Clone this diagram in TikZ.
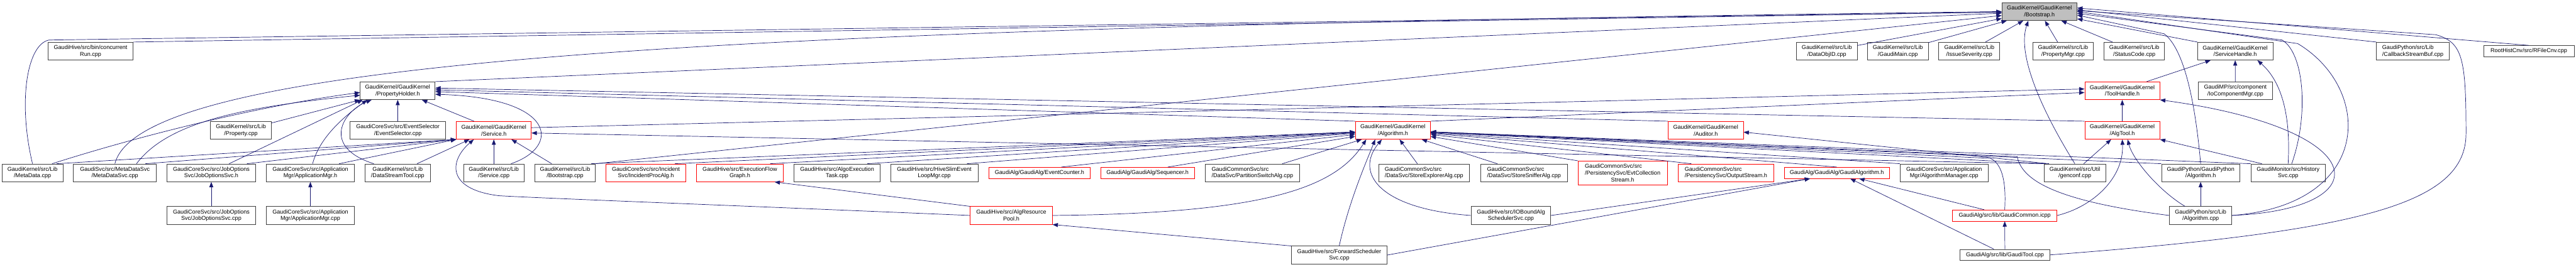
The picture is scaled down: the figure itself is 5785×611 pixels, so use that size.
\documentclass[tikz,border=0pt]{standalone}
\usepackage{fontspec}
\setmainfont{Liberation Sans}
\usepackage{tikz}
\usetikzlibrary{arrows.meta}
\definecolor{edgeblue}{HTML}{191970}
\definecolor{boxgray}{HTML}{404040}
\definecolor{rootgray}{HTML}{BFBFBF}
\definecolor{boxred}{HTML}{FF0000}
\newcommand{\dxfont}{\fontsize{12.8pt}{15pt}\selectfont}
\tikzset{file/.style={draw=boxgray, fill=white, line width=1pt, inner sep=0pt,
		align=center, font=\dxfont, minimum height=40pt},
	redfile/.style={file, draw=boxred},
	rootfile/.style={file, fill=rootgray},
	oneline/.style={minimum height=25pt},
	threeline/.style={minimum height=53.6pt},
	inc/.style={draw=edgeblue, line width=1pt, -{Triangle[length=12pt,width=9pt]}}}

\begin{document}
\begin{tikzpicture}[x=1pt,y=-1pt]
\useasboundingbox (0,0) rectangle (5785,611);
% row 0
\node[rootfile, minimum width=168.5pt] (boot) at (4580,26) {GaudiKernel/GaudiKernel\\/Bootstrap.h};
% row 1
\node[file, minimum width=191pt] (crun) at (203.5,115) {GaudiHive/src/bin/concurrent\\Run.cpp};
\node[file, minimum width=136pt] (dataobjid) at (4102.5,115) {GaudiKernel/src/Lib\\/DataObjID.cpp};
\node[file, minimum width=136.5pt] (gaudimain) at (4262,115) {GaudiKernel/src/Lib\\/GaudiMain.cpp};
\node[file, minimum width=137pt] (issuesev) at (4422.5,115) {GaudiKernel/src/Lib\\/IssueSeverity.cpp};
\node[file, minimum width=136pt] (propmgr) at (4633,115) {GaudiKernel/src/Lib\\/PropertyMgr.cpp};
\node[file, minimum width=136pt] (statuscode) at (4793,115) {GaudiKernel/src/Lib\\/StatusCode.cpp};
\node[file, minimum width=169pt] (svh) at (5019.5,115) {GaudiKernel/GaudiKernel\\/ServiceHandle.h};
\node[file, align=left, minimum width=163pt] (callback) at (5418.5,115) {GaudiPython/src/Lib\\/CallbackStreamBuf.cpp};
\node[file, oneline, minimum width=203pt] (rfilecnv) at (5679,115) {RootHistCnv/src/RFileCnv.cpp};
% row 2
\node[file, minimum width=168pt] (ph) at (893,204) {GaudiKernel/GaudiKernel\\/PropertyHolder.h};
\node[redfile, minimum width=168.5pt] (th) at (4766,204) {GaudiKernel/GaudiKernel\\/ToolHandle.h};
\node[file, minimum width=167pt] (iocomp) at (5020,204) {GaudiMP/src/component\\/IoComponentMgr.cpp};
% row 3
\node[file, minimum width=136.5pt] (property) at (541,293) {GaudiKernel/src/Lib\\/Property.cpp};
\node[file, minimum width=215pt] (evsel) at (893.5,293) {GaudiCoreSvc/src/EventSelector\\/EventSelector.cpp};
\node[redfile, minimum width=168pt] (svc) at (1109,293) {GaudiKernel/GaudiKernel\\/Service.h};
\node[redfile, minimum width=168.5pt] (alg) at (3128,293) {GaudiKernel/GaudiKernel\\/Algorithm.h};
\node[redfile, minimum width=169pt] (auditor) at (3830.5,293) {GaudiKernel/GaudiKernel\\/Auditor.h};
\node[redfile, minimum width=168.5pt] (algtool) at (4766,293) {GaudiKernel/GaudiKernel\\/AlgTool.h};
% row 4
\node[file, minimum width=137pt] (metadata) at (73,388.6) {GaudiKernel/src/Lib\\/MetaData.cpp};
\node[file, minimum width=186pt] (metadatasvc) at (258,388.6) {GaudiSvc/src/MetaDataSvc\\/MetaDataSvc.cpp};
\node[file, minimum width=199pt] (jobopth) at (474.5,388.6) {GaudiCoreSvc/src/JobOptions\\Svc/JobOptionsSvc.h};
\node[file, minimum width=198pt] (appmgrh) at (697,388.6) {GaudiCoreSvc/src/Application\\Mgr/ApplicationMgr.h};
\node[file, minimum width=146pt] (dstool) at (893,388.6) {GaudiKernel/src/Lib\\/DataStreamTool.cpp};
\node[file, minimum width=136pt] (servicecpp) at (1109,388.6) {GaudiKernel/src/Lib\\/Service.cpp};
\node[file, minimum width=136pt] (bootcpp) at (1269,388.6) {GaudiKernel/src/Lib\\/Bootstrap.cpp};
\node[redfile, minimum width=179pt] (incident) at (1450.5,388.6) {GaudiCoreSvc/src/Incident\\Svc/IncidentProcAlg.h};
\node[redfile, minimum width=195pt] (execflow) at (1661.5,388.6) {GaudiHive/src/ExecutionFlow\\Graph.h};
\node[file, minimum width=194pt] (algoexec) at (1880,388.6) {GaudiHive/src/AlgoExecution\\Task.cpp};
\node[file, minimum width=196pt] (hiveslim) at (2098,388.6) {GaudiHive/src/HiveSlimEvent\\LoopMgr.cpp};
\node[redfile, oneline, minimum width=227pt] (evcounter) at (2334.5,388.6) {GaudiAlg/GaudiAlg/EventCounter.h};
\node[redfile, oneline, minimum width=210pt] (sequencer) at (2577,388.6) {GaudiAlg/GaudiAlg/Sequencer.h};
\node[file, align=left, minimum width=213pt] (partition) at (2812.5,388.6) {GaudiCommonSvc/src\\/DataSvc/PartitionSwitchAlg.cpp};
\node[file, align=left, minimum width=204.6pt] (storeexpl) at (3198,388.6) {GaudiCommonSvc/src\\/DataSvc/StoreExplorerAlg.cpp};
\node[file, align=left, minimum width=195pt] (storesniff) at (3422.5,388.6) {GaudiCommonSvc/src\\/DataSvc/StoreSnifferAlg.cpp};
\node[redfile, threeline, align=left, minimum width=200.5pt] (evtcoll) at (3644,388.8) {GaudiCommonSvc/src\\/PersistencySvc/EvtCollection\\\hspace*{58.7pt}Stream.h};
\node[redfile, align=left, minimum width=214.5pt] (outstream) at (3876,388.6) {GaudiCommonSvc/src\\/PersistencySvc/OutputStream.h};
\node[redfile, oneline, minimum width=236pt] (gaudialg) at (4125,388.6) {GaudiAlg/GaudiAlg/GaudiAlgorithm.h};
\node[file, minimum width=198pt] (algmgr) at (4366,388.6) {GaudiCoreSvc/src/Application\\Mgr/AlgorithmManager.cpp};
\node[file, minimum width=139pt] (genconf) at (4659.5,388.6) {GaudiKernel/src/Util\\/genconf.cpp};
\node[file, minimum width=176pt] (gpalgh) at (4942,388.6) {GaudiPython/GaudiPython\\/Algorithm.h};
\node[file, minimum width=167pt] (history) at (5138.5,388.6) {GaudiMonitor/src/History\\Svc.cpp};
% row 5
\node[file, minimum width=199pt] (joboptcpp) at (474.5,484.4) {GaudiCoreSvc/src/JobOptions\\Svc/JobOptionsSvc.cpp};
\node[file, minimum width=198pt] (appmgrcpp) at (697,484.4) {GaudiCoreSvc/src/Application\\Mgr/ApplicationMgr.cpp};
\node[redfile, minimum width=184.5pt] (algpool) at (2271,484.4) {GaudiHive/src/AlgResource\\Pool.h};
\node[file, minimum width=179pt] (iobound) at (3393,484.4) {GaudiHive/src/IOBoundAlg\\SchedulerSvc.cpp};
\node[redfile, oneline, minimum width=234.5pt] (gaudicommon) at (4502,484.5) {GaudiAlg/src/lib/GaudiCommon.icpp};
\node[file, minimum width=140pt] (gpalgcpp) at (4942,484.4) {GaudiPython/src/Lib\\/Algorithm.cpp};
% row 6
\node[file, minimum width=215pt] (forward) at (3007.5,573.4) {GaudiHive/src/ForwardScheduler\\Svc.cpp};
\node[file, oneline, minimum width=203pt] (gauditool) at (4502.5,573) {GaudiAlg/src/lib/GaudiTool.cpp};

\coordinate (mdbend) at (110,90);
\coordinate (gtbend) at (5538,300);
\coordinate (gtbend2) at (5470,78);
\coordinate (hsbend) at (5125,90);
\coordinate (gpbend) at (4860,76);
\coordinate (gcpybend) at (5160,98);
\coordinate (apbend) at (1120,440);
\coordinate (gcbend) at (4470,356);
\coordinate (gcpbend) at (4530,352);

% into Bootstrap.h
\draw[inc] (metadata.north) .. controls (40,230) and (60,100) .. (mdbend) -- (boot);
\draw[inc] (crun.north east) -- (boot);
\draw[inc] (metadatasvc.north) .. controls (320,120) and (1800,60) .. (boot.west);
\draw[inc] (ph.north east) -- (boot);
\draw[inc] (bootcpp.north east) -- (boot);
\draw[inc] (dataobjid) -- (boot);
\draw[inc] (gaudimain) -- (boot);
\draw[inc] (issuesev) -- (boot);
\draw[inc] (propmgr) -- (boot);
\draw[inc] (statuscode) -- (boot);
\draw[inc] (svh.north west) -- (boot);
\draw[inc] (callback.north west) -- ([yshift=4pt]boot.east);
\draw[inc] (rfilecnv.north) -- ([yshift=8pt]boot.east);
\draw[inc] (genconf.north) .. controls (4580,240) and (4530,120) .. ([xshift=-25pt]boot.south);
\draw[inc] (gpalgh.north) .. controls (4930,230) and (4905,110) .. (gpbend) -- ([yshift=-8pt]boot.east);
\draw[inc] ([xshift=8pt]history.north) .. controls (5185,260) and (5175,120) .. (hsbend) -- ([yshift=-4pt]boot.east);
\draw[inc] (gpalgcpp.east) .. controls (5330,460) and (5330,200) .. (gcpybend) -- (boot.east);
\draw[inc] (gauditool.east) .. controls (5300,520) and (5538,460) .. (gtbend) .. controls (5538,130) and (5530,95) .. (gtbend2) -- ([yshift=2pt]boot.east);

% into PropertyHolder.h
\draw[inc] ([xshift=-25pt]metadata.north east) .. controls (330,300) and (600,235) .. ([yshift=-4pt]ph.west);
\draw[inc] ([xshift=-45pt]metadatasvc.north east) .. controls (380,270) and (560,240) .. ([yshift=-10pt]ph.west);
\draw[inc] ([yshift=-4pt]property.north east) -- (ph.south west);
\draw[inc] ([xshift=40pt]jobopth.north) -- ([xshift=6pt]ph.south west);
\draw[inc] ([xshift=5pt]appmgrh.north) .. controls (720,300) and (790,250) .. ([xshift=16pt]ph.south west);
\draw[inc] ([xshift=20pt]dstool.north west) .. controls (720,330) and (770,250) .. ([xshift=26pt]ph.south west);
\draw[inc] (evsel) -- (ph);
\draw[inc] ([xshift=40pt]svc.north west) -- ([xshift=-30pt]ph.south east);
\draw[inc] ([xshift=-30pt]servicecpp.north east) .. controls (1260,330) and (1250,220) .. ([yshift=-8pt]ph.east);
\draw[inc] (alg.north west) -- ([yshift=-2pt]ph.east);
\draw[inc] (auditor.north west) -- ([yshift=2pt]ph.east);
\draw[inc] (algtool.north west) -- ([yshift=6pt]ph.east);

% into Service.h
\draw[inc] ([xshift=-15pt]metadata.north east) -- (svc.south west);
\draw[inc] ([xshift=-25pt]metadatasvc.north east) -- (svc.south west);
\draw[inc] ([xshift=-20pt]jobopth.north east) -- (svc.south west);
\draw[inc] ([xshift=-35pt]appmgrh.north east) -- (svc.south west);
\draw[inc] ([xshift=-30pt]dstool.north east) -- ([xshift=30pt]svc.south west);
\draw[inc] (servicecpp) -- (svc);
\draw[inc] ([xshift=-30pt]bootcpp.north) -- ([xshift=-45pt]svc.south east);
\draw[inc] (algpool.west) .. controls (1600,460) and (1200,445) .. (apbend) .. controls (1000,425) and (1010,360) .. ([xshift=-45pt]svc.south);
\draw[inc] (genconf.north west) -- ([yshift=-6pt]svc.east);

% into Algorithm.h
\draw[inc] ([xshift=-10pt]bootcpp.north east) -- (alg);
\draw[inc] ([xshift=-25pt]incident.north east) -- (alg);
\draw[inc] ([xshift=-30pt]execflow.north east) -- (alg);
\draw[inc] ([xshift=-30pt]algoexec.north east) -- (alg);
\draw[inc] ([xshift=-25pt]hiveslim.north east) -- (alg);
\draw[inc] ([xshift=-65pt]evcounter.north east) -- (alg);
\draw[inc] ([xshift=-60pt]sequencer.north east) -- (alg);
\draw[inc] ([xshift=-40pt]partition.north east) -- ([xshift=15pt]alg.south west);
\draw[inc] (algpool.east) .. controls (2850,480) and (3000,420) .. ([xshift=25pt]alg.south west);
\draw[inc] (forward.north) .. controls (3030,450) and (3070,360) .. ([xshift=45pt]alg.south west);
\draw[inc] (iobound.west) .. controls (3100,470) and (3040,390) .. ([xshift=60pt]alg.south west);
\draw[inc] ([xshift=-15pt]storeexpl.north) -- ([xshift=15pt]alg.south);
\draw[inc] ([xshift=38pt]storesniff.north west) -- ([xshift=-20pt]alg.south east);
\draw[inc] (evtcoll.north west) -- (alg);
\draw[inc] ([xshift=30pt]outstream.north west) -- (alg);
\draw[inc] (gaudialg.north) -- (alg);
\draw[inc] (algmgr.north west) -- (alg);
\draw[inc] ([xshift=6pt]genconf.north west) -- (alg);
\draw[inc] (gpalgh.north west) -- (alg);
\draw[inc] (history.north west) -- (alg);
\draw[inc] (gaudicommon.north) .. controls (4505,420) and (4500,370) .. (gcbend) -- (alg);
\draw[inc] (gpalgcpp.west) .. controls (4600,450) and (4540,400) .. (gcpbend) -- (alg);

% ToolHandle.h, ServiceHandle.h
\draw[inc] (algtool) -- (th);
\draw[inc] ([yshift=6pt]svc.east) -- ([yshift=4pt]th.west);
\draw[inc] (alg.north east) -- ([yshift=-4pt]th.west);
\draw[inc] (gpalgcpp.east) .. controls (5350,470) and (5330,290) .. (th.south east);
\draw[inc] ([xshift=-30pt]th.north east) -- ([xshift=30pt]svh.south west);
\draw[inc] (iocomp) -- (svh);
\draw[inc] (history.north) .. controls (5145,250) and (5120,180) .. ([xshift=-35pt]svh.south east);

% AlgTool.h, Auditor.h
\draw[inc] ([xshift=-50pt]genconf.north east) -- ([xshift=-25pt]algtool.south);
\draw[inc] (gaudicommon.east) .. controls (4700,465) and (4770,400) .. (algtool.south);
\draw[inc] ([xshift=-35pt]gpalgcpp.north) .. controls (4850,430) and (4790,360) .. ([xshift=12pt]algtool.south);
\draw[inc] ([xshift=25pt]history.north west) -- (algtool.south east);
\draw[inc] ([xshift=12pt]genconf.north west) -- ([yshift=-4pt]auditor.east);

% lower levels
\draw[inc] ([xshift=-46pt]gaudicommon.north) -- ([xshift=50pt]gaudialg.south);
\draw[inc] ([xshift=-25pt]gauditool.north) -- ([xshift=30pt]gaudialg.south);
\draw[inc] (iobound.east) -- ([xshift=-60pt]gaudialg.south);
\draw[inc] (forward.east) -- ([xshift=-60pt]gaudialg.south);
\draw[inc] (gauditool) -- (gaudicommon);
\draw[inc] (gpalgcpp) -- (gpalgh);
\draw[inc] (algpool.north west) -- ([xshift=-20pt]execflow.south east);
\draw[inc] (forward.north west) -- (algpool.south east);
\draw[inc] (joboptcpp) -- (jobopth);
\draw[inc] (appmgrcpp) -- (appmgrh);
\end{tikzpicture}
\end{document}
